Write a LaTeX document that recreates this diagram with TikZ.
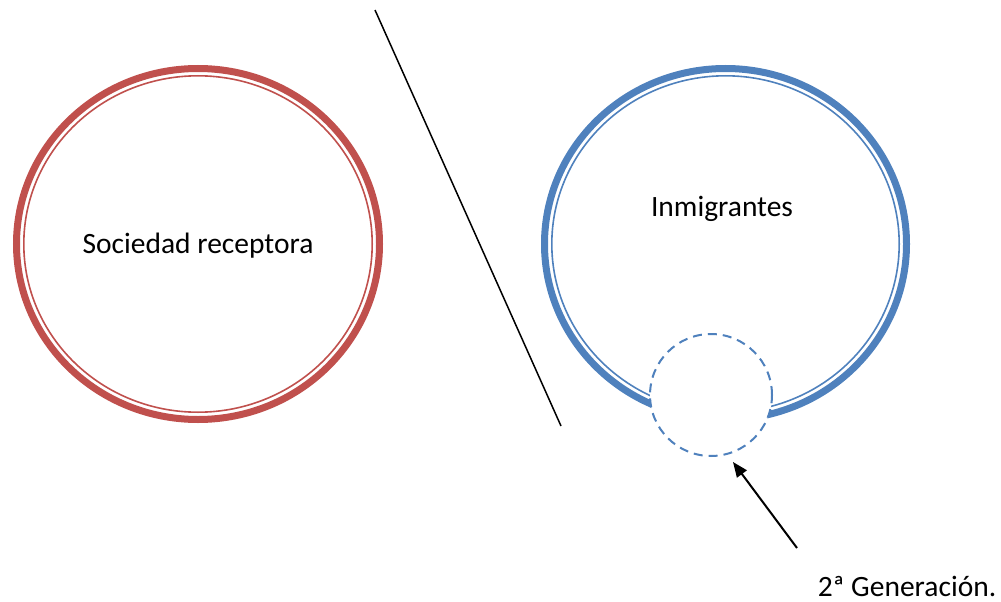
\documentclass[tikz,border=0pt]{standalone}
\usepackage{fontspec}
\setmainfont{Carlito}
\usetikzlibrary{arrows.meta}
\definecolor{cred}{HTML}{C0504D}
\definecolor{cblue}{HTML}{4F81BD}
\tikzset{
  thickring/.style={line width=7pt},
  thinring/.style={line width=1.6pt},
  lbl/.style={font=\fontsize{29.5}{34}\selectfont, inner sep=0pt},
}
\begin{document}
\begin{tikzpicture}[x=1pt,y=-1pt]
\useasboundingbox (0,0) rectangle (1001,602);
% red ring
\coordinate (rc) at (198,244);
\draw[cred,thickring] (rc) ellipse [x radius=181.5, y radius=175.5];
\draw[cred,thinring] (rc) ellipse [x radius=174.2, y radius=168.2];
\node[lbl] (soc) at (198,246) {Sociedad receptora};
% blue ring
\coordinate (bc) at (725.5,244);
\draw[cblue,thickring] (bc) ellipse [x radius=181, y radius=175.5];
\draw[cblue,thinring] (bc) ellipse [x radius=173.7, y radius=168.2];
\node[lbl] (inm) at (722,209) {Inmigrantes};
% dashed small circle
\node[circle, draw=cblue, fill=white, line width=2pt, dash pattern=on 9pt off 6pt, minimum size=122pt, inner sep=0pt] (gen) at (711,395) {};
% divider line
\coordinate (l1) at (375,10);
\coordinate (l2) at (561,426);
\draw[line width=1.5pt] (l1) -- (l2);
% arrow
\coordinate (a1) at (797,548);
\coordinate (a2) at (733,462);
\draw[line width=2pt, -{Triangle[length=15pt,width=12pt]}] (a1) -- (a2);
\node[lbl, anchor=base] (g2) at (907,596) {2ª Generación.};
\end{tikzpicture}
\end{document}
